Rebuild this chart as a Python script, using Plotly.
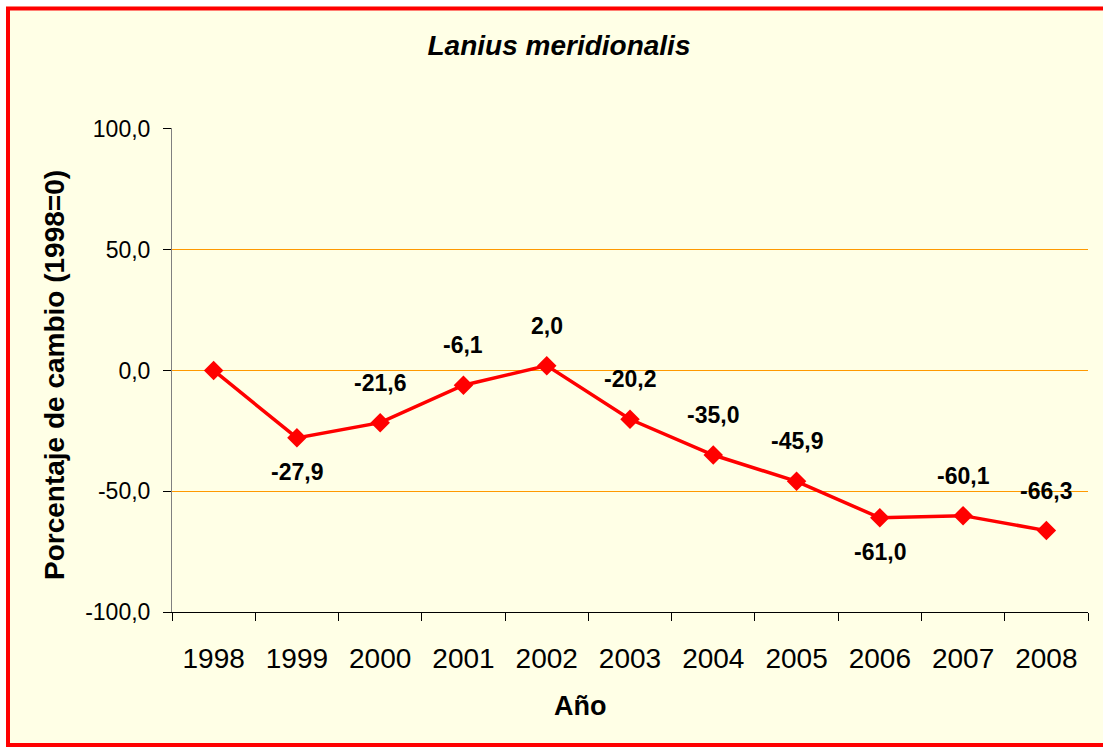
import plotly.graph_objects as go

# Data
years = ['1998', '1999', '2000', '2001', '2002', '2003', '2004', '2005', '2006', '2007', '2008']
change = [0.0, -27.9, -21.6, -6.1, 2.0, -20.2, -35.0, -45.9, -61.0, -60.1, -66.3]
labels = ['', '-27,9', '-21,6', '-6,1', '2,0', '-20,2', '-35,0', '-45,9', '-61,0', '-60,1', '-66,3']
label_below = [False, True, False, False, False, False, False, False, True, False, False]
y_ticks = [-100, -50, 0, 50, 100]
y_ticktext = ['-100,0', '-50,0', '0,0', '50,0', '100,0']

W, H = 1103, 747
L, R, T, B = 172, 15, 128, 135
pw, ph = W - L - R, H - T - B
FONT = 'Liberation Sans, Arial, sans-serif'

fig = go.Figure()
fig.add_trace(go.Scatter(
    x=list(range(len(years))), y=change, mode='lines+markers',
    line=dict(color='#FF0000', width=3.5),
    marker=dict(symbol='diamond', size=15, color='#FF0000'),
    hoverinfo='y', showlegend=False,
))

# Data labels
for i, (v, txt, below) in enumerate(zip(change, labels, label_below)):
    if not txt:
        continue
    fig.add_annotation(x=i, y=v, text='<b>' + txt + '</b>', showarrow=False,
                       xref='x', yref='y', yanchor='middle',
                       yshift=-34 if below else 40,
                       font=dict(family=FONT, size=23, color='black'))

# Axis titles
fig.add_annotation(text='<b>Porcentaje de cambio (1998=0)</b>', textangle=-90,
                   xref='paper', yref='paper', x=0, y=0.5, xanchor='center', yanchor='middle',
                   xshift=-118, yshift=-5, showarrow=False,
                   font=dict(family=FONT, size=28, color='black'))
fig.add_annotation(text='<b>Año</b>', xref='paper', yref='paper', x=0.5, y=0,
                   xanchor='center', yanchor='middle', yshift=-94, xshift=-50,
                   showarrow=False, font=dict(family=FONT, size=27, color='black'))

# Red frame (left, top, bottom; right side falls outside the picture)
fig.add_shape(type='rect', xref='paper', yref='paper',
              x0=(8 - L) / pw, x1=(W + 60 - L) / pw,
              y0=1 - (745 - T) / ph, y1=1 - (8.5 - T) / ph,
              line=dict(color='#FF0000', width=4), layer='below')

fig.update_layout(
    width=W, height=H,
    margin=dict(l=L, r=R, t=T, b=B),
    paper_bgcolor='#FFFFE6', plot_bgcolor='#FFFFE6',
    font=dict(family=FONT, size=23, color='black'),
    title=dict(text='<b><i>Lanius meridionalis</i></b>', x=559 / W, xanchor='center',
               xref='container', y=1 - 45 / H, yanchor='middle',
               font=dict(family=FONT, size=28)),
    xaxis=dict(tickmode='array', tickvals=list(range(len(years))), ticktext=years,
               range=[-0.5, len(years) - 0.5],
               showline=True, linecolor='black', linewidth=1,
               ticks='', showgrid=False, zeroline=False,
               ticklabelstandoff=21, tickfont=dict(size=28)),
    yaxis=dict(range=[-100, 100.4], tickmode='array', tickvals=y_ticks, ticktext=y_ticktext,
               showline=True, linecolor='#808080', linewidth=1,
               ticks='outside', ticklen=8, tickcolor='black',
               gridcolor='#FF9900', gridwidth=1,
               zeroline=False, ticklabelstandoff=8,
               tickfont=dict(size=23)),
)

# tick marks on the category boundaries, drawn as a minor-tick set
fig.update_xaxes(minor=dict(tickmode='array', tickvals=[i - 0.5 for i in range(len(years) + 1)],
                            ticks='outside', ticklen=8, tickcolor='black', showgrid=False))

# white strip outside the frame like the original image
fig.add_shape(type='rect', xref='paper', yref='paper',
              x0=(-10 - L) / pw, x1=(6 - L) / pw, y0=-1, y1=2,
              fillcolor='white', line_width=0, layer='below')
fig.add_shape(type='rect', xref='paper', yref='paper',
              x0=-1, x1=2, y0=1 - (6 - T) / ph, y1=1 - (-10 - T) / ph,
              fillcolor='white', line_width=0, layer='below')

fig.write_html("out.html", config={'displayModeBar': False},
               post_script="document.body.style.margin='0';document.body.style.overflow='hidden';")
